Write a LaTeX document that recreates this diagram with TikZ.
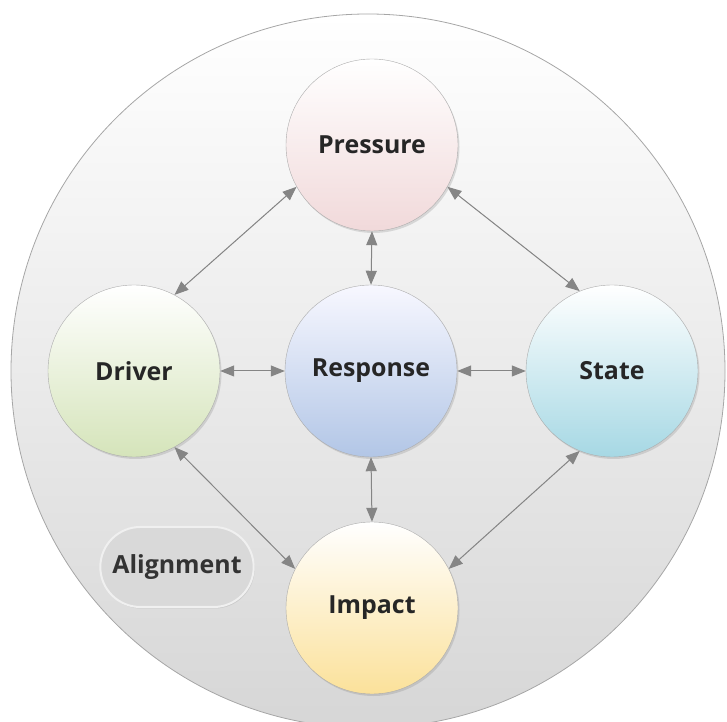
\documentclass[tikz,border=0pt]{standalone}
\usepackage{fontspec}
\setmainfont{Open Sans}
\usepackage{xcolor}
\usetikzlibrary{arrows.meta, shadows, shapes.misc}

\definecolor{txtdark}{HTML}{262626}
\definecolor{pressurecol}{HTML}{F1D9DA}
\definecolor{drivercol}{HTML}{D5E4BA}
\definecolor{responsecol}{HTML}{B2C6E6}
\definecolor{statecol}{HTML}{A6D8E4}
\definecolor{impactcol}{HTML}{FBE19A}
\definecolor{linkcol}{HTML}{858585}

\begin{document}
\begin{tikzpicture}[x=1bp, y=1bp,
    every node/.style={font=\fontsize{25}{30}\selectfont\bfseries, text=txtdark},
    ball/.style={circle, draw=gray!65, minimum size=172bp, shading=axis, top color=white,
        drop shadow={opacity=0.25, shadow xshift=1.5bp, shadow yshift=-2bp}},
    link/.style={{Triangle[length=14bp,width=11bp]}-{Triangle[length=14bp,width=11bp]}, draw=linkcol, fill=linkcol, line width=1bp}]
    \useasboundingbox (0,0) rectangle (727,722);
    % Background disc
    \shade[top color=white, bottom color=gray!32, draw=gray!70, line width=0.8bp] (368,351) circle (357);
    % Components
    \node[ball, bottom color=pressurecol] (pressure) at (372,577) {Pressure};
    \node[ball, bottom color=drivercol] (driver) at (134,351) {Driver};
    \node[ball, bottom color=responsecol, top color=blue!3] (response) at (371,351) {Response};
    \node[ball, bottom color=statecol] (state) at (612,351) {State};
    \node[ball, bottom color=impactcol] (impact) at (372,114) {Impact};
    % Alignment label
    \node[rounded rectangle, fill=gray!30, draw=gray!12, line width=2bp, minimum width=160bp, minimum height=80bp,
        text=black!80, drop shadow={opacity=0.2, shadow xshift=1bp, shadow yshift=-1.5bp}] (alignment) at (177,155) {Alignment};
    % Links
    \foreach \a/\b in {driver.east/response.west, response.east/state.west,
        pressure.south/response.north, response.south/impact.north,
        pressure.209/driver.62, pressure.-29/state.112,
        driver.-62/impact.153, state.-112/impact.27} {
        \draw[link] (\a) -- (\b);
    }
\end{tikzpicture}
\end{document}
